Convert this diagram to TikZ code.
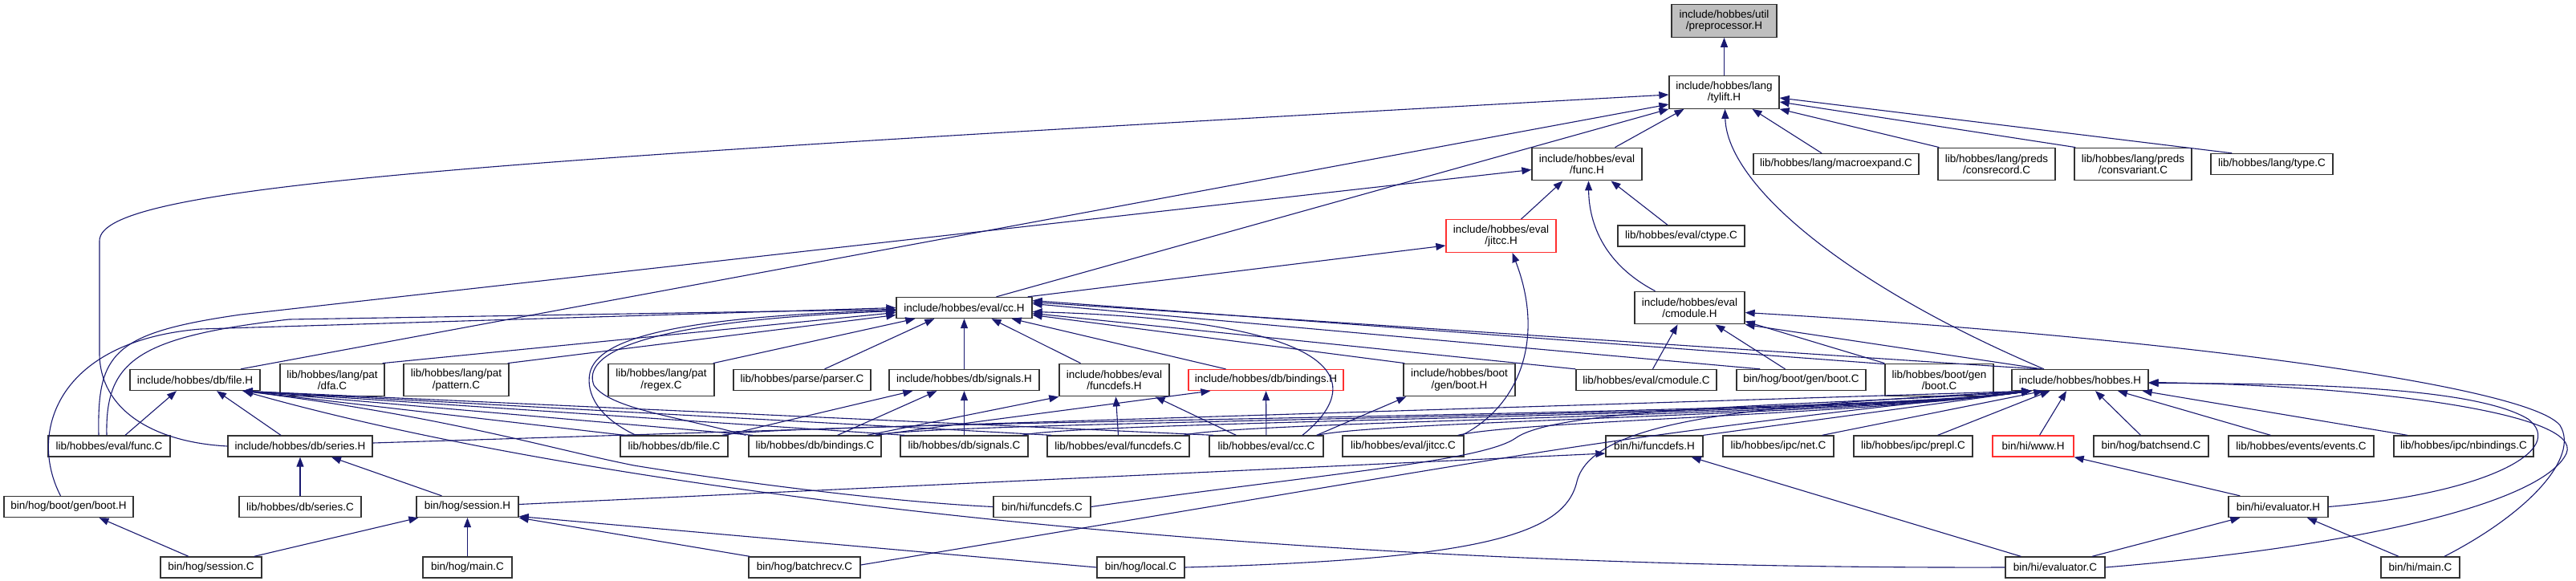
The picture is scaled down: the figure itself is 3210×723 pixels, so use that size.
\documentclass[tikz,border=0pt]{standalone}
\usepackage{fontspec}
\setmainfont{Liberation Sans}
\usetikzlibrary{arrows.meta,calc}
\definecolor{edgeblue}{HTML}{191970}
\definecolor{rootgray}{HTML}{BFBFBF}
\definecolor{nodered}{HTML}{FF3030}
\begin{document}
\begin{tikzpicture}[x=1pt,y=-1pt,
 box/.style={draw=black!80, line width=1.3pt, fill=white, inner sep=0pt, align=center, font=\fontsize{13.5}{14.5}\selectfont},
 l1/.style={minimum height=26pt},
 l2/.style={minimum height=40.5pt},
 redbox/.style={draw=nodered},
 edge/.style={draw=edgeblue, line width=1.1pt, -{Triangle[length=12pt,width=9pt]}}]
\useasboundingbox[fill=white] (0,0) rectangle (3210,723);
% ---- nodes
\node[box,l2,minimum width=131pt,fill=rootgray] (P) at (2148.5,26) {include/hobbes/util\\/preprocessor.H};
\node[box,l2,minimum width=137pt] (TY) at (2148.5,115) {include/hobbes/lang\\/tylift.H};
\node[box,l2,minimum width=137pt] (FH) at (1977.5,204.5) {include/hobbes/eval\\/func.H};
\node[box,l1,minimum width=206pt] (ME) at (2288,204.5) {lib/hobbes/lang/macroexpand.C};
\node[box,l2,minimum width=146pt] (CR) at (2488,204.5) {lib/hobbes/lang/preds\\/consrecord.C};
\node[box,l2,minimum width=146pt] (CV) at (2658,204.5) {lib/hobbes/lang/preds\\/consvariant.C};
\node[box,l1,minimum width=152pt] (TC) at (2831,204.5) {lib/hobbes/lang/type.C};
\node[box,l2,redbox,minimum width=137pt] (JH) at (1870.5,294) {include/hobbes/eval\\/jitcc.H};
\node[box,l1,minimum width=158pt] (CT) at (2095,294) {lib/hobbes/eval/ctype.C};
\node[box,l2,minimum width=137pt] (CMH) at (2105.5,383.5) {include/hobbes/eval\\/cmodule.H};
\node[box,l1,minimum width=169pt] (CCH) at (1201.5,383.5) {include/hobbes/eval/cc.H};
% row 4
\node[box,l1,minimum width=162pt] (FILEH) at (243,473.5) {include/hobbes/db/file.H};
\node[box,l2,minimum width=130pt] (DFA) at (414,473.5) {lib/hobbes/lang/pat\\/dfa.C};
\node[box,l2,minimum width=131pt] (PAT) at (568.5,473.5) {lib/hobbes/lang/pat\\/pattern.C};
\node[box,l2,minimum width=132pt] (REG) at (824,473.5) {lib/hobbes/lang/pat\\/regex.C};
\node[box,l1,minimum width=171pt] (PARSER) at (999.5,473.5) {lib/hobbes/parse/parser.C};
\node[box,l1,minimum width=187pt] (SIGH) at (1201.5,473.5) {include/hobbes/db/signals.H};
\node[box,l2,minimum width=137pt] (FDH) at (1388.5,473.5) {include/hobbes/eval\\/funcdefs.H};
\node[box,l1,redbox,minimum width=193pt] (BINDH) at (1577.5,473.5) {include/hobbes/db/bindings.H};
\node[box,l2,minimum width=139pt] (BOOTH) at (1818.5,473.5) {include/hobbes/boot\\/gen/boot.H};
\node[box,l1,minimum width=175pt] (CMC) at (2051.5,473.5) {lib/hobbes/eval/cmodule.C};
\node[box,l1,minimum width=161pt] (HBOOTC) at (2244.5,473.5) {bin/hog/boot/gen/boot.C};
\node[box,l2,minimum width=135pt] (LBOOTC) at (2416.5,473.5) {lib/hobbes/boot/gen\\/boot.C};
\node[box,l1,minimum width=170pt] (HOB) at (2592,473.5) {include/hobbes/hobbes.H};
% row 5
\node[box,l1,minimum width=152pt] (FUNCC) at (136,556) {lib/hobbes/eval/func.C};
\node[box,l1,minimum width=180pt] (SERH) at (374,556) {include/hobbes/db/series.H};
\node[box,l1,minimum width=134pt] (FILEC) at (840,556) {lib/hobbes/db/file.C};
\node[box,l1,minimum width=165pt] (BINDC) at (1015.5,556) {lib/hobbes/db/bindings.C};
\node[box,l1,minimum width=159pt] (SIGC) at (1201.5,556) {lib/hobbes/db/signals.C};
\node[box,l1,minimum width=177pt] (FDC) at (1393.5,556) {lib/hobbes/eval/funcdefs.C};
\node[box,l1,minimum width=142pt] (CCC) at (1578,556) {lib/hobbes/eval/cc.C};
\node[box,l1,minimum width=151pt] (JITC) at (1748.5,556) {lib/hobbes/eval/jitcc.C};
\node[box,l1,minimum width=121pt] (HFDH) at (2061.5,556) {bin/hi/funcdefs.H};
\node[box,l1,minimum width=138pt] (NET) at (2216,556) {lib/hobbes/ipc/net.C};
\node[box,l1,minimum width=148pt] (PREPL) at (2384,556) {lib/hobbes/ipc/prepl.C};
\node[box,l1,redbox,minimum width=101pt] (WWW) at (2533.5,556) {bin/hi/www.H};
\node[box,l1,minimum width=143pt] (BSEND) at (2680.5,556) {bin/hog/batchsend.C};
\node[box,l1,minimum width=181pt] (EVENTS) at (2867.5,556) {lib/hobbes/events/events.C};
\node[box,l1,minimum width=174pt] (NBIND) at (3070,556) {lib/hobbes/ipc/nbindings.C};
% row 6
\node[box,l1,minimum width=161pt] (HBOOTH) at (85.5,631.5) {bin/hog/boot/gen/boot.H};
\node[box,l1,minimum width=152pt] (SERC) at (374,631.5) {lib/hobbes/db/series.C};
\node[box,l1,minimum width=127pt] (SESH) at (582.5,631.5) {bin/hog/session.H};
\node[box,l1,minimum width=121pt] (HFDC) at (1298.5,631.5) {bin/hi/funcdefs.C};
\node[box,l1,minimum width=124pt] (EVH) at (2839,631.5) {bin/hi/evaluator.H};
% row 7
\node[box,l1,minimum width=126pt] (SESC) at (263,707) {bin/hog/session.C};
\node[box,l1,minimum width=111pt] (HMAIN) at (582.5,707) {bin/hog/main.C};
\node[box,l1,minimum width=139pt] (BRECV) at (1002.5,707) {bin/hog/batchrecv.C};
\node[box,l1,minimum width=109pt] (LOCAL) at (1421.5,707) {bin/hog/local.C};
\node[box,l1,minimum width=124pt] (EVC) at (2561,707) {bin/hi/evaluator.C};
\node[box,l1,minimum width=98pt] (HIMAIN) at (3016,707) {bin/hi/main.C};
% ---- edges: tylift.H
\draw[edge] (TY) -- (P);
\draw[edge] ($(FH.north)+(35,0)$) -- ($(TY.south)+(-50,0)$);
\draw[edge] ($(ME.north)+(-18,0)$) -- ($(TY.south)+(35,0)$);
\draw[edge] ($(CR.north west)+(2,0)$) -- (TY.south east);
\draw[edge] ($(CV.north west)+(2,0)$) -- ($(TY.east)+(0,12)$);
\draw[edge] ($(TC.north west)+(27,0)$) -- ($(TY.east)+(0,7)$);
\draw[edge] ($(HOB.north)+(-45,0)$) .. controls (2300,355) and (2152,230) .. ($(TY.south)+(1,0)$);
\draw[edge] ($(CCH.north)+(40,0)$) -- (TY.south west);
\draw[edge] ($(FILEH.north)+(57,0)$) -- ($(TY.west)+(0,15)$);
\draw[edge] (SERH.west) .. controls (190,551) and (124,510) .. (124,440) -- (124,300) .. controls (124,230) and (600,200) .. ($(TY.west)+(0,3)$);
% func.H
\draw[edge] ($(JH.north)+(25,0)$) -- ($(FH.south)+(-30,0)$);
\draw[edge] ($(CT.north)+(-17,0)$) -- ($(FH.south)+(30,0)$);
\draw[edge] ($(CMH.north)+(-43,0)$) .. controls (2000,330) and (1980,280) .. ($(FH.south)+(2,0)$);
\draw[edge] ($(FUNCC.north)+(-13,0)$) .. controls (121,440) and (140,415) .. (300,392) -- ($(FH.west)+(0,7)$);
% jitcc.H
\draw[edge] ($(CCH.north east)+(-6,0)$) -- ($(JH.west)+(0,12)$);
\draw[edge] ($(JITC.north east)+(-3,0)$) .. controls (1895,505) and (1925,420) .. ($(JH.south)+(14,0)$);
% cc.H
\draw[edge] ($(REG.north east)+(-2,0)$) -- ($(CCH.south west)+(24,0)$);
\draw[edge] ($(PARSER.north)+(28,0)$) -- ($(CCH.south west)+(48,0)$);
\draw[edge] (SIGH) -- (CCH);
\draw[edge] ($(FDH.north)+(-42,0)$) -- ($(CCH.south)+(34,0)$);
\draw[edge] ($(BINDH.north)+(-50,0)$) -- ($(CCH.south east)+(-26,0)$);
\draw[edge] ($(DFA.north east)+(-3,0)$) -- ($(CCH.west)+(0,6)$);
\draw[edge] ($(PAT.north east)+(-2,0)$) -- ($(CCH.west)+(0,9)$);
\draw[edge] ($(FUNCC.north)+(-3,0)$) .. controls (131,450) and (170,420) .. (360,398) -- ($(CCH.west)+(0,2)$);
\draw[edge] ($(HBOOTH.north)+(-10,0)$) .. controls (35,540) and (70,425) .. (250,410) -- (CCH.west);
\draw[edge] ($(FILEC.north west)+(20,0)$) .. controls (745,520) and (730,490) .. (735,465) .. controls (745,420) and (850,395) .. ($(CCH.west)+(0,3)$);
\draw[edge] ($(BINDC.north west)+(-3,0)$) .. controls (850,520) and (760,510) .. (740,480) .. controls (725,440) and (800,400) .. ($(CCH.west)+(0,4)$);
\draw[edge] ($(CCC.north)+(45,0)$) .. controls (1700,480) and (1690,400) .. ($(CCH.east)+(0,5)$);
\draw[edge] ($(BOOTH.north west)+(2,0)$) -- ($(CCH.east)+(0,9)$);
\draw[edge] (CMC.north west) -- ($(CCH.east)+(0,7)$);
\draw[edge] ($(HBOOTC.north west)+(30,0)$) -- ($(CCH.east)+(0,-5)$);
\draw[edge] ($(LBOOTC.north west)+(0,1)$) -- ($(CCH.east)+(0,-9)$);
\draw[edge] ($(HOB.north west)+(33,0)$) -- ($(CCH.east)+(0,-7)$);
% cmodule.H
\draw[edge] ($(HOB.north west)+(38,0)$) -- (CMH.south east);
\draw[edge] (LBOOTC.north west) -- ($(CMH.south east)+(0,-4)$);
\draw[edge] ($(HBOOTC.north)+(-20,0)$) -- ($(CMH.south)+(32,0)$);
\draw[edge] ($(CMC.north)+(8,0)$) -- ($(CMH.south)+(-15,0)$);
\draw[edge] ($(HIMAIN.north)+(30,0)$) .. controls (3150,640) and (3215,570) .. (3190,530) .. controls (3150,480) and (2700,420) .. ($(CMH.east)+(0,6)$);
% file.H
\draw[edge] ($(FUNCC.north)+(20,0)$) -- ($(FILEH.south)+(-23,0)$);
\draw[edge] ($(SERH.north)+(-24,0)$) -- ($(FILEH.south)+(27,0)$);
\foreach \n in {FILEC,BINDC,SIGC,FDC,CCC}
  \draw[edge] ($(\n.north west)+(6,0)$) -- ($(FILEH.south east)+(-22,0)$);
\draw[edge] (HFDC.west) .. controls (1100,625) and (900,598) .. (790,580) .. controls (680,558) and (560,520) .. ($(FILEH.south east)+(-22,0)$);
\draw[edge] (EVC.west) .. controls (1500,710) and (700,600) .. ($(FILEH.south east)+(-22,0)$);
% signals / funcdefs / bindings / boot
\draw[edge] (SIGC) -- (SIGH);
\draw[edge] ($(FILEC.north east)+(-4,0)$) -- ($(SIGH.south west)+(30,0)$);
\draw[edge] ($(BINDC.north east)+(-55,0)$) -- ($(SIGH.south west)+(60,0)$);
\draw[edge] (FDC.north) -- ($(FDH.south)+(2,0)$);
\draw[edge] ($(CCC.north west)+(34,0)$) -- ($(FDH.south east)+(-18,0)$);
\draw[edge] ($(BINDC.north east)+(-18,0)$) -- (FDH.south west);
\draw[edge] ($(BINDC.north east)+(-8,0)$) -- ($(BINDH.south west)+(28,0)$);
\draw[edge] (CCC) -- (BINDH);
\draw[edge] ($(CCC.north east)+(-9,0)$) -- ($(BOOTH.south west)+(4,0)$);
% hobbes.H
\draw[edge] ($(SERH.east)+(0,-4)$) -- ($(HOB.south west)+(25,0)$);
\foreach \n in {FILEC,BINDC,SIGC,FDC,CCC,JITC}
  \draw[edge] ($(\n.north east)+(-8,0)$) .. controls ($(\n.north east)+(70,-18)$) and (2300,518) .. ($(HOB.south west)+(25,0)$);
\draw[edge] (HFDC.east) .. controls (1650,590) and (1850,575) .. (1890,545) .. controls (1950,505) and (2300,505) .. ($(HOB.south west)+(25,0)$);
\draw[edge] ($(BRECV.east)+(0,-3)$) .. controls (1400,650) and (1750,590) .. (1910,565) .. controls (2100,535) and (2350,505) .. ($(HOB.south west)+(25,0)$);
\draw[edge] (LOCAL.east) .. controls (1850,697) and (1950,665) .. (1965,600) .. controls (1985,520) and (2200,505) .. ($(HOB.south west)+(25,0)$);
\draw[edge] (HFDH.north east) -- ($(HOB.south west)+(25,0)$);
\draw[edge] ($(NET.north east)+(-15,0)$) -- ($(HOB.south west)+(40,0)$);
\draw[edge] ($(PREPL.north east)+(-44,0)$) -- ($(HOB.south west)+(48,0)$);
\draw[edge] ($(WWW.north)+(8,0)$) -- ($(HOB.south)+(-17,0)$);
\draw[edge] ($(BSEND.north)+(-13,0)$) -- ($(HOB.south)+(19,0)$);
\draw[edge] ($(EVENTS.north)+(-38,0)$) -- ($(HOB.south)+(47,0)$);
\draw[edge] ($(NBIND.north)+(-70,0)$) -- ($(HOB.south east)+(-8,0)$);
\draw[edge] (EVH.east) .. controls (3100,615) and (3200,560) .. (3150,522) .. controls (3080,480) and (2850,478) .. ($(HOB.east)+(0,4)$);
\draw[edge] (EVC.east) .. controls (2950,680) and (3170,625) .. (3198,565) .. controls (3220,515) and (2950,480) .. ($(HOB.east)+(0,3)$);
% bottom part
\draw[edge] ($(EVH.north west)+(15,0)$) -- (WWW.south east);
\draw[edge] ($(EVC.north)+(46,0)$) -- ($(EVH.south west)+(15,0)$);
\draw[edge] ($(HIMAIN.north)+(-27,0)$) -- ($(EVH.south)+(36,0)$);
\draw[edge] ($(EVC.north west)+(20,0)$) -- ($(HFDH.south east)+(-15,0)$);
\draw[edge] ($(SESH.east)+(0,-3)$) -- ($(HFDH.west)+(0,9)$);
\draw[edge] ($(SESH.north)+(-32,0)$) -- ($(SERH.south)+(39,0)$);
\draw[edge] (SERC) -- (SERH);
\draw[edge] ($(SESC.north east)+(-10,0)$) -- ($(SESH.south west)+(3,0)$);
\draw[edge] ($(SESC.north)+(-28,0)$) -- ($(HBOOTH.south)+(38,0)$);
\draw[edge] (HMAIN) -- (SESH);
\draw[edge] ($(BRECV.north west)+(2,0)$) -- (SESH.south east);
\draw[edge] (LOCAL.west) -- ($(SESH.east)+(0,12)$);
\end{tikzpicture}
\end{document}
